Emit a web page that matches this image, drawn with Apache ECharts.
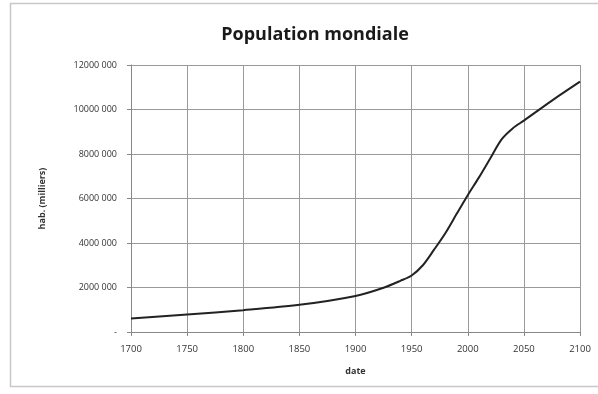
<!DOCTYPE html>
<html>
<head>
<meta charset="utf-8">
<script src="https://cdn.jsdelivr.net/npm/echarts@6/dist/echarts.min.js"></script>
<style>
  html, body { margin: 0; padding: 0; background: #fff; }
  #chart { width: 598px; height: 394px; }
</style>
</head>
<body>
<div id="chart"></div>
<script>
// population mondiale, en milliers d'habitants
var years = [1700, 1750, 1800, 1850, 1900, 1925, 1940, 1950, 1960, 1970, 1980, 1990, 2000, 2010, 2020, 2030, 2040, 2050, 2075, 2100];
var population = [610000, 790000, 980000, 1220000, 1620000, 1990000, 2300000, 2540000, 3000000, 3700000, 4440000, 5300000, 6150000, 6950000, 7800000, 8650000, 9150000, 9500000, 10400000, 11250000];

var chart = echarts.init(document.getElementById('chart'));

function fmtY(v) {
    if (v === 0) return '-';
    return Math.round(v / 1000) + ' 000';
}

var pts = [];
for (var i = 0; i < years.length; i++) {
    pts.push([years[i], population[i]]);
}

var option = {
    animation: false,
    backgroundColor: '#fff',
    textStyle: { fontFamily: 'Open Sans' },
    graphic: [{
        type: 'rect',
        shape: { x: 10.5, y: 3.5, width: 600, height: 383 },
        style: { fill: 'none', stroke: '#c8c8c8', lineWidth: 1.5 },
        z: -1
    }],
    title: {
        text: 'Population mondiale',
        left: 310,
        textAlign: 'center',
        top: 21,
        textStyle: { fontSize: 18, fontWeight: 'bold', color: '#1a1a1a', fontFamily: 'Open Sans' }
    },
    grid: { left: 131, right: 18, top: 65, bottom: 62 },
    xAxis: {
        type: 'value',
        min: 1700,
        max: 2100,
        interval: 50,
        name: 'date',
        nameLocation: 'middle',
        nameGap: 35,
        nameTextStyle: { fontSize: 9, fontWeight: 'bold', color: '#333' },
        axisLine: { lineStyle: { color: '#888', width: 1 } },
        axisTick: { show: true, length: 4, inside: false, lineStyle: { color: '#888' } },
        axisLabel: { fontSize: 9.5, color: '#333', margin: 12, formatter: function (v) { return String(v); } },
        splitLine: { show: true, lineStyle: { color: '#9a9a9a', width: 1 } }
    },
    yAxis: {
        type: 'value',
        min: 0,
        max: 12000000,
        interval: 2000000,
        name: 'hab. (milliers)',
        nameLocation: 'middle',
        nameGap: 84,
        nameTextStyle: { fontSize: 9, fontWeight: 'bold', color: '#333' },
        axisLine: { show: true, lineStyle: { color: '#888', width: 1 } },
        axisTick: { show: true, length: 4, lineStyle: { color: '#888' } },
        axisLabel: { fontSize: 9, color: '#333', margin: 14, formatter: fmtY },
        splitLine: { show: true, lineStyle: { color: '#9a9a9a', width: 1 } }
    },
    series: [{
        type: 'line',
        data: pts,
        smooth: 0.3,
        showSymbol: false,
        lineStyle: { color: '#222', width: 2 }
    }]
};

chart.setOption(option);
</script>
</body>
</html>
